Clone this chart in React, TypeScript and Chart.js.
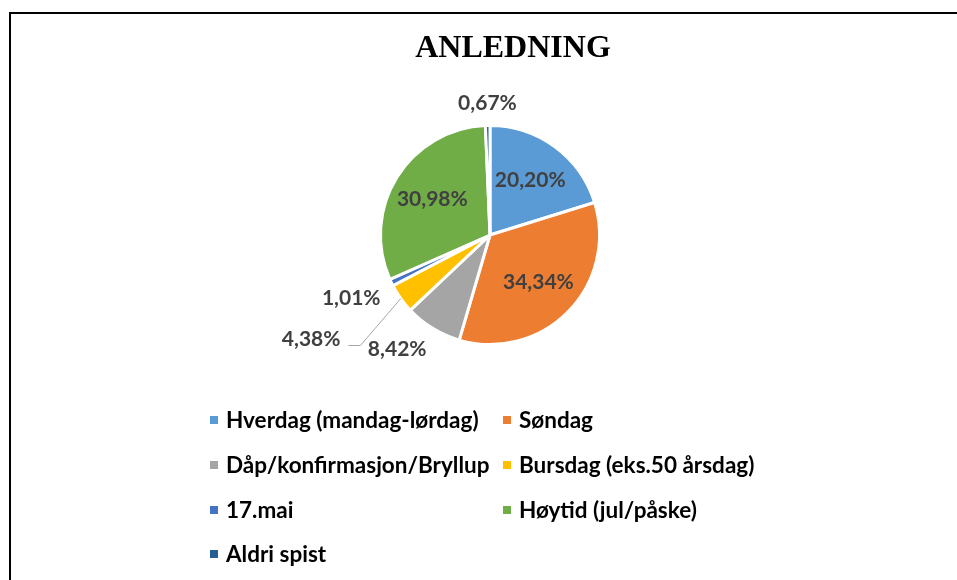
import React, { useEffect, useRef } from "react";
import { Chart, registerables } from "chart.js";

Chart.register(...registerables);

const chartTitle = "ANLEDNING";
const categories = [
  "Hverdag (mandag-lørdag)",
  "Søndag",
  "Dåp/konfirmasjon/Bryllup",
  "Bursdag (eks.50 årsdag)",
  "17.mai",
  "Høytid (jul/påske)",
  "Aldri spist",
];
const shares = [20.2, 34.34, 8.42, 4.38, 1.01, 30.98, 0.67];
const sliceColors = ["#5B9BD5", "#ED7D31", "#A5A5A5", "#FFC000", "#4472C4", "#70AD47", "#255E91"];
// label placement mode per slice: inside, outside, leader
const labelModes = ["in", "in", "out", "leader", "out", "in", "out"];

const LABEL_FONT = "bold 21px Lato";
const LEGEND_FONT = "bold 22.5px Lato";
const LABEL_COLOR = "#404040";

const fmt = (v: number) => v.toFixed(2).replace(".", ",") + "%";

const decorPlugin = {
  id: "decor",
  afterDraw(chart: any) {
    const ctx = chart.ctx as CanvasRenderingContext2D;
    ctx.save();
    // title
    ctx.font = "bold 32px 'Liberation Serif'";
    ctx.fillStyle = "#000";
    ctx.textAlign = "center";
    ctx.textBaseline = "alphabetic";
    ctx.fillText(chartTitle, 513, 57);

    // data labels
    const meta = chart.getDatasetMeta(0);
    const values = chart.data.datasets[0].data as number[];
    ctx.font = LABEL_FONT;
    ctx.fillStyle = LABEL_COLOR;
    meta.data.forEach((arc: any, i: number) => {
      const p = arc.getProps(["x", "y", "startAngle", "endAngle", "outerRadius"], true);
      const mid = (p.startAngle + p.endAngle) / 2;
      const c = Math.cos(mid);
      const s = Math.sin(mid);
      const R = p.outerRadius;
      const text = fmt(values[i]);
      const mode = labelModes[i];
      if (mode === "in") {
        ctx.textAlign = "center";
        ctx.textBaseline = "middle";
        ctx.fillText(text, p.x + c * R * 0.62, p.y + s * R * 0.62);
      } else if (mode === "out") {
        const r = R + 12;
        ctx.textAlign = Math.abs(c) < 0.2 ? "center" : c < 0 ? "right" : "left";
        ctx.textBaseline = s > 0.3 ? "top" : s < -0.3 ? "bottom" : "middle";
        ctx.fillText(text, p.x + c * r, p.y + s * r);
      } else {
        const ex = p.x + c * R;
        const ey = p.y + s * R;
        const a2 = mid - (5 * Math.PI) / 180;
        const r2 = R * 1.555;
        const bx = p.x + Math.cos(a2) * r2;
        const by = p.y + Math.sin(a2) * r2;
        ctx.strokeStyle = "#A6A6A6";
        ctx.lineWidth = 1;
        ctx.beginPath();
        ctx.moveTo(ex, ey);
        ctx.lineTo(bx, by);
        ctx.lineTo(bx - 12, by);
        ctx.stroke();
        ctx.textAlign = "right";
        ctx.textBaseline = "alphabetic";
        ctx.fillText(text, bx - 20, by + 1);
      }
    });

    // legend
    const labels = chart.data.labels as string[];
    const colors = chart.data.datasets[0].backgroundColor as string[];
    const colX = [210, 503];
    const rowY = [420, 465, 510, 554];
    ctx.font = LEGEND_FONT;
    ctx.textAlign = "left";
    ctx.textBaseline = "middle";
    labels.forEach((lab, i) => {
      const x = colX[i % 2];
      const y = rowY[Math.floor(i / 2)];
      ctx.fillStyle = colors[i];
      ctx.fillRect(x, y - 4, 8, 8);
      ctx.fillStyle = "#000";
      ctx.fillText(lab, x + 16, y + 1);
    });
    ctx.restore();
  },
};

export default function App() {
  const ref = useRef<HTMLCanvasElement | null>(null);
  useEffect(() => {
    if (!ref.current) return;
    const chart = new Chart(ref.current, {
      type: "pie",
      data: {
        labels: categories,
        datasets: [
          {
            data: shares,
            backgroundColor: sliceColors,
            borderColor: "#ffffff",
            borderWidth: 3,
          },
        ],
      },
      options: {
        responsive: false,
        animation: false,
        layout: { padding: { left: 379, right: 356, top: 124, bottom: 234 } },
        plugins: {
          legend: { display: false },
          title: { display: false },
          tooltip: { enabled: false },
        },
      },
      plugins: [decorPlugin],
    });
    return () => chart.destroy();
  }, []);
  return (
    <div style={{ position: "fixed", left: 0, top: 0, width: 957, height: 580, overflow: "hidden", background: "#fff" }}>
      <div
        style={{
          position: "absolute",
          left: 9,
          top: 12,
          width: 2000,
          height: 2000,
          borderTop: "2px solid #000",
          borderLeft: "2px solid #000",
        }}
      />
      <canvas ref={ref} width={957} height={580} style={{ position: "absolute", left: 0, top: 0 }} />
    </div>
  );
}
